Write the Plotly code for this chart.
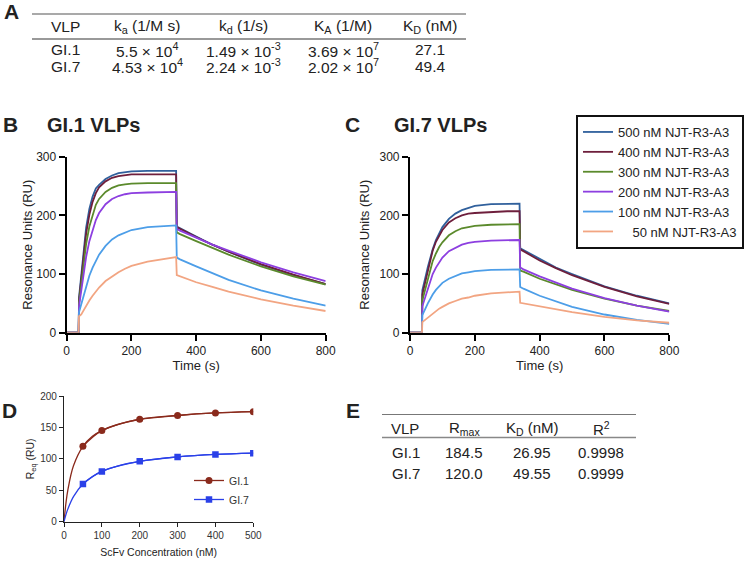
import plotly.graph_objects as go

W, H = 744, 561
FONT = "Liberation Sans, Arial, Helvetica, sans-serif"

# ---------------- data ----------------
concentrations = ["500 nM NJT-R3-A3", "400 nM NJT-R3-A3", "300 nM NJT-R3-A3",
                  "200 nM NJT-R3-A3", "100 nM NJT-R3-A3", "\u2007\u200750 nM NJT-R3-A3"]
colors = ["#30609c", "#6e1f3c", "#5b8a2c", "#8d3fe0", "#4d9ee8", "#f2a582"]

time_s = [0, 37, 38, 45, 50, 55, 60, 70, 80, 90, 100, 120, 140, 160, 180, 200, 250, 300, 338,
          340, 350, 400, 450, 500, 600, 700, 800]

gi1_500 = [0, 0, 60, 99, 131, 157, 179, 211, 232, 246, 252, 262, 268, 272, 274, 275, 276, 276, 276,
           181, 178, 164, 150, 138, 116, 98, 83]
gi1_400 = [0, 0, 55, 92, 123, 148, 169, 201, 223, 238, 248, 258, 264, 267, 269, 270, 270, 270, 270,
           180, 177, 163, 150, 138, 117, 99, 83]
gi1_300 = [0, 0, 50, 82, 109, 132, 151, 181, 202, 218, 228, 240, 247, 251, 253, 254, 255, 255, 255,
           171, 168, 156, 144, 133, 113, 96, 82]
gi1_200 = [0, 0, 45, 70, 93, 112, 129, 156, 176, 192, 204, 219, 228, 233, 236, 238, 239, 240, 240,
           177, 174, 162, 150, 140, 120, 103, 88]
gi1_100 = [0, 0, 35, 48, 59, 70, 80, 97, 111, 123, 133, 148, 159, 166, 171, 175, 180, 182, 183,
           128, 125, 113, 102, 90, 72, 58, 46]
gi1_50 = [0, 0, 28, 31, 36, 41, 46, 55, 63, 70, 77, 88, 96, 103, 109, 114, 121, 126, 129,
          98, 96, 86, 78, 70, 57, 46, 37]

gi7_500 = [0, 0, 72, 86, 100, 112, 123, 142, 158, 170, 180, 194, 203, 209, 213, 216, 219, 220, 220,
           144, 141, 125, 111, 100, 79, 63, 50]
gi7_400 = [0, 0, 65, 82, 96, 109, 121, 140, 155, 166, 175, 188, 195, 200, 203, 204, 206, 207, 207,
           142, 139, 123, 110, 98, 78, 62, 49]
gi7_300 = [0, 0, 55, 70, 83, 94, 105, 122, 135, 146, 154, 166, 173, 178, 180, 182, 184, 185, 185,
           106, 104, 92, 82, 73, 58, 46, 37]
gi7_200 = [0, 0, 45, 57, 67, 77, 85, 100, 111, 120, 128, 139, 145, 150, 153, 155, 157, 158, 158,
           111, 108, 96, 85, 75, 59, 46, 36]
gi7_100 = [0, 0, 30, 37, 44, 50, 56, 65, 73, 79, 85, 92, 97, 101, 103, 105, 107, 108, 108,
           78, 75, 63, 53, 44, 31, 22, 15]
gi7_50 = [0, 0, 18, 21, 24, 26, 29, 33, 37, 41, 44, 50, 54, 58, 60, 63, 67, 69, 70,
          51, 50, 44, 39, 35, 27, 21, 17]

gi1_curves = [gi1_500, gi1_400, gi1_300, gi1_200, gi1_100, gi1_50]
gi7_curves = [gi7_500, gi7_400, gi7_300, gi7_200, gi7_100, gi7_50]

# panel D (steady-state)
scfv_nM = [50, 100, 200, 300, 400, 500]
req_gi1 = [120, 145, 163, 169, 173, 175]
req_gi7 = [60, 80, 96, 103, 107, 109]
fit_nM = [0, 5, 10, 25, 50, 75, 100, 150, 200, 300, 400, 500]
fit_gi1 = [0, 29, 50, 89, 120, 136, 145, 156, 163, 169, 173, 175]
fit_gi7 = [0, 11, 20, 40, 60, 72, 80, 90, 96, 103, 107, 109]

# table A
tableA_header = ["VLP", "k<sub>a</sub> (1/M s)", "k<sub>d</sub> (1/s)", "K<sub>A</sub> (1/M)", "K<sub>D</sub> (nM)"]
tableA_rows = [["GI.1", "5.5 × 10<sup>4</sup>", "1.49 × 10<sup>-3</sup>", "3.69 × 10<sup>7</sup>", "27.1"],
               ["GI.7", "4.53 × 10<sup>4</sup>", "2.24 × 10<sup>-3</sup>", "2.02 × 10<sup>7</sup>", "49.4"]]
# table E
tableE_header = ["VLP", "R<sub>max</sub>", "K<sub>D</sub> (nM)", "R<sup>2</sup>"]
tableE_rows = [["GI.1", "184.5", "26.95", "0.9998"],
               ["GI.7", "120.0", "49.55", "0.9999"]]


def px(x):
    return x / W


def py(y):
    return 1 - y / H


fig = go.Figure()

for name, col, c1, c7 in zip(concentrations, colors, gi1_curves, gi7_curves):
    fig.add_trace(go.Scatter(x=time_s, y=c1, mode="lines", line=dict(color=col, width=1.8),
                             name=name, legendgroup=name, showlegend=False,
                             xaxis="x", yaxis="y"))
for name, col, c1, c7 in zip(concentrations, colors, gi1_curves, gi7_curves):
    fig.add_trace(go.Scatter(x=time_s, y=c7, mode="lines", line=dict(color=col, width=1.8),
                             name=name, legendgroup=name, showlegend=True, legend="legend",
                             xaxis="x2", yaxis="y2"))

red, blue = "#8a2a1c", "#2a40e8"
fig.add_trace(go.Scatter(x=fit_nM, y=fit_gi1, mode="lines", line=dict(color=red, width=1.3, shape="spline"),
                         showlegend=False, xaxis="x3", yaxis="y3", hoverinfo="skip"))
fig.add_trace(go.Scatter(x=fit_nM, y=fit_gi7, mode="lines", line=dict(color=blue, width=1.3, shape="spline"),
                         showlegend=False, xaxis="x3", yaxis="y3", hoverinfo="skip"))
fig.add_trace(go.Scatter(x=scfv_nM, y=req_gi1, mode="lines+markers", name="GI.1",
                         line=dict(color=red, width=1.3, shape="spline"),
                         marker=dict(symbol="circle", size=7, color=red),
                         legend="legend2", xaxis="x3", yaxis="y3"))
fig.add_trace(go.Scatter(x=scfv_nM, y=req_gi7, mode="lines+markers", name="GI.7",
                         line=dict(color=blue, width=1.3, shape="spline"),
                         marker=dict(symbol="square", size=6.5, color=blue),
                         legend="legend2", xaxis="x3", yaxis="y3"))

big_axis = dict(showline=True, linecolor="black", linewidth=2.2, ticks="outside", ticklen=6,
                tickwidth=2.2, tickcolor="black", showgrid=False, zeroline=False, automargin=False,
                tickfont=dict(family=FONT, size=12, color="#222"))
small_axis = dict(showline=True, linecolor="#222", linewidth=1.2, ticks="outside", ticklen=4,
                  tickwidth=1.2, tickcolor="#222", showgrid=False, zeroline=False, automargin=False,
                  tickfont=dict(family=FONT, size=10, color="#333"))

dom_bx = [px(66.7), px(325.7)]
dom_cx = [px(410), px(669.3)]
dom_by = [py(332.7), py(156.7)]

fig.update_layout(
    width=W, height=H, autosize=False,
    margin=dict(l=0, r=0, t=0, b=0, autoexpand=False),
    paper_bgcolor="white", plot_bgcolor="white",
    font=dict(family=FONT, color="#222"),
    xaxis=dict(big_axis, domain=dom_bx, range=[0, 800], tickvals=[0, 200, 400, 600, 800], anchor="y",
               title=dict(text="Time (s)", font=dict(size=13), standoff=1)),
    yaxis=dict(big_axis, domain=dom_by, range=[0, 300], tickvals=[0, 100, 200, 300], anchor="x",
               title=dict(text="Resonance Units (RU)", font=dict(size=13), standoff=1)),
    xaxis2=dict(big_axis, domain=dom_cx, range=[0, 800], tickvals=[0, 200, 400, 600, 800], anchor="y2",
                title=dict(text="Time (s)", font=dict(size=13), standoff=1)),
    yaxis2=dict(big_axis, domain=dom_by, range=[0, 300], tickvals=[0, 100, 200, 300], anchor="x2",
                title=dict(text="Resonance Units (RU)", font=dict(size=13), standoff=7)),
    xaxis3=dict(small_axis, domain=[px(64), px(253.3)], range=[0, 500],
                tickvals=[0, 100, 200, 300, 400, 500], anchor="y3",
                title=dict(text="ScFv Concentration (nM)", font=dict(size=10.5), standoff=8)),
    yaxis3=dict(small_axis, domain=[py(521.7), py(396)], range=[0, 200],
                tickvals=[0, 50, 100, 150, 200], anchor="x3",
                title=dict(text="R<sub>eq</sub> (RU)", font=dict(size=10.5), standoff=3)),
    legend=dict(x=1, xanchor="right", y=py(115), yanchor="top", bordercolor="#111", borderwidth=2,
                bgcolor="white", font=dict(family=FONT, size=13, color="#222"), tracegroupgap=0),
    legend2=dict(x=px(189), xanchor="left", y=py(466), yanchor="top", borderwidth=0,
                 bgcolor="rgba(0,0,0,0)", font=dict(family=FONT, size=10.5, color="#333")),
)

ann = []
shapes = []


def text(x, y, t, size, bold=False, xanchor="center", color="#222"):
    ann.append(dict(x=px(x), y=py(y), xref="paper", yref="paper", text=t, showarrow=False,
                    xanchor=xanchor, yanchor="middle",
                    font=dict(family=FONT, size=size, color=color,
                              weight="bold" if bold else "normal")))


def hline(x0, x1, y, color, width):
    shapes.append(dict(type="line", xref="paper", yref="paper", x0=px(x0), x1=px(x1),
                       y0=py(y), y1=py(y), line=dict(color=color, width=width)))


# panel letters and titles
text(11, 11, "A", 21, bold=True)
text(10, 125, "B", 21, bold=True)
text(352, 125, "C", 21, bold=True)
text(9, 410, "D", 21, bold=True)
text(353, 410, "E", 21, bold=True)
text(45, 125, "GI.1 VLPs", 20, bold=True, xanchor="left")
text(392, 125, "GI.7 VLPs", 20, bold=True, xanchor="left")

# table A
hline(32, 466, 14, "#555", 1.2)
hline(32, 466, 39, "#999", 2)
colA = [65, 147, 243, 343, 430]
for cx, t in zip(colA, tableA_header):
    text(cx, 27, t, 15.5)
for ry, row in zip([50, 66], tableA_rows):
    for i, (cx, t) in enumerate(zip(colA, row)):
        if i == 0:
            text(49, ry, t, 15.5, xanchor="left")
        else:
            text(cx, ry, t, 15.5)

# table E
hline(382, 636, 414.5, "#777", 1.2)
hline(382, 636, 437.5, "#888", 1.5)
colE = [405, 464, 532, 601]
for cx, t in zip(colE, tableE_header):
    text(cx, 428, t, 15)
for ry, row in zip([452, 473.5], tableE_rows):
    for i, (cx, t) in enumerate(zip(colE, row)):
        if i == 0:
            text(390, ry, t, 15, xanchor="left")
        else:
            text(cx, ry, t, 15)

fig.update_layout(annotations=ann, shapes=shapes)
fig.write_html("out.html", config={"displayModeBar": False},
               post_script="document.body.style.margin='0';document.body.style.padding='0';"
                           "document.body.style.overflow='hidden';")
